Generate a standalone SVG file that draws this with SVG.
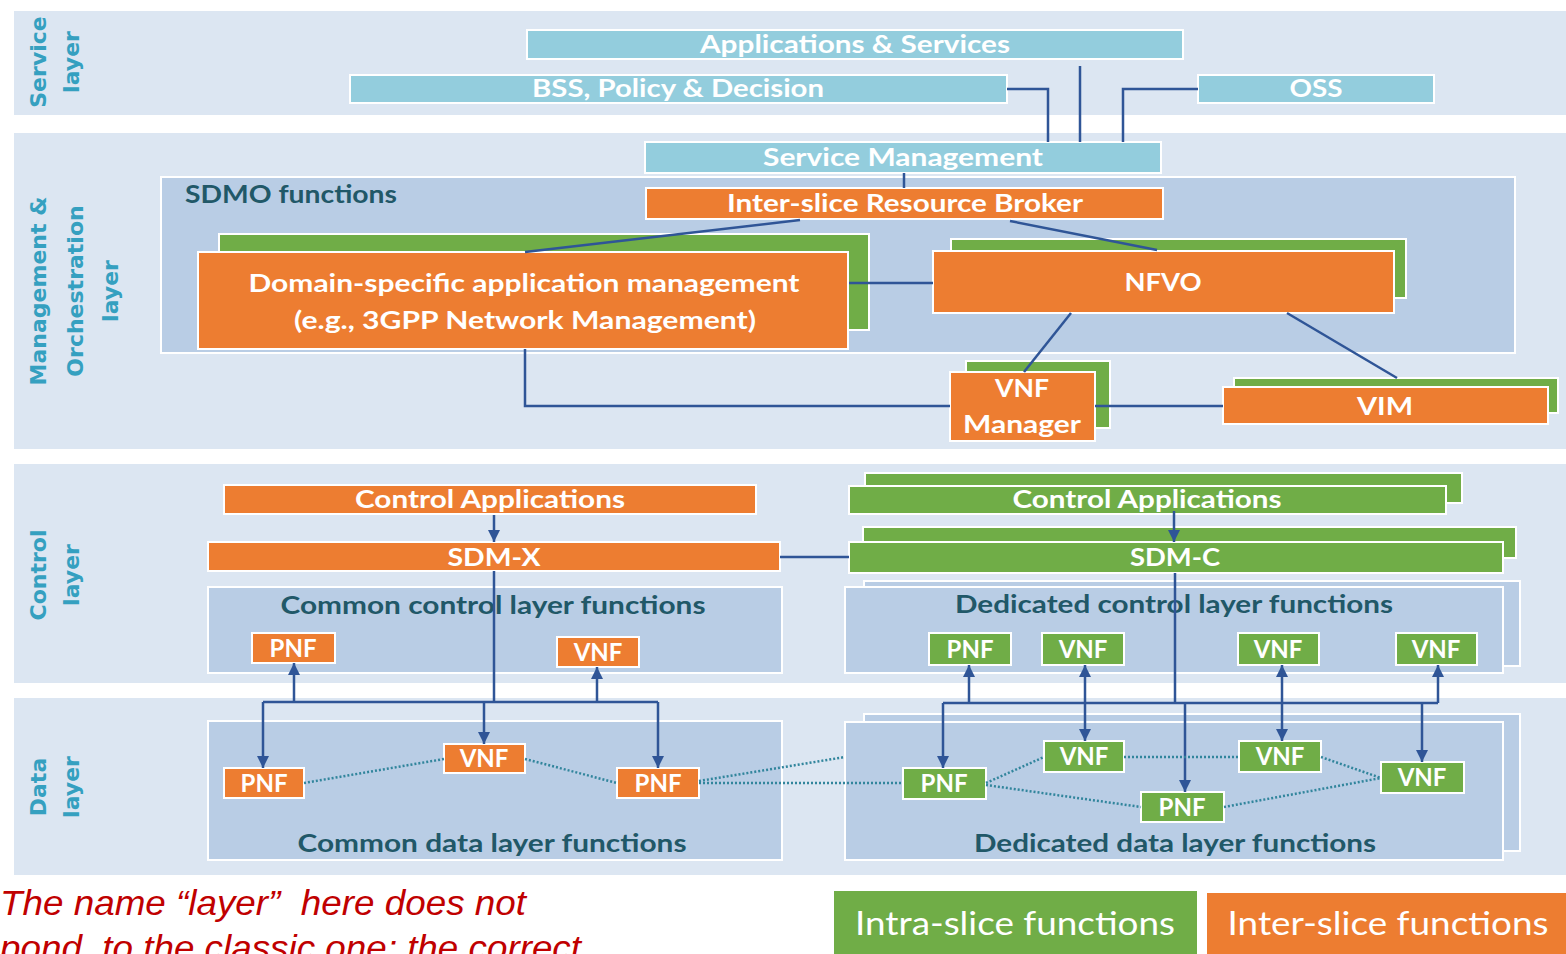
<svg xmlns="http://www.w3.org/2000/svg" width="1566" height="954" viewBox="0 0 1566 954">
<defs>
<style>
.band{fill:#dce6f2;stroke:#fff;stroke-width:2}
.lb{fill:#93cddd;stroke:#fff;stroke-width:2}
.or{fill:#ed7d31;stroke:#fff;stroke-width:2}
.gr{fill:#70ad47;stroke:#fff;stroke-width:2}
.pane{fill:#b9cde5;stroke:#fff;stroke-width:2}
.wt{font-family:Lato,"Open Sans","Liberation Sans",sans-serif;font-weight:700;font-size:25px;fill:#fff;text-anchor:middle}
.dt{font-family:Lato,"Open Sans","Liberation Sans",sans-serif;font-weight:700;font-size:25px;fill:#215868;text-anchor:middle}
.sm{font-size:24px}
.lg{font-family:Lato,"Open Sans","Liberation Sans",sans-serif;font-weight:400;font-size:32px;fill:#fff;text-anchor:middle}
.ll{font-family:"DejaVu Sans",Verdana,sans-serif;font-weight:700;font-size:22px;fill:#35a0c0;text-anchor:middle}
.ln{stroke:#2f5597;stroke-width:2.5;fill:none}
.dot{stroke:#31859c;stroke-width:2.5;stroke-dasharray:2 2;fill:none}
.note{font-family:"Liberation Sans",Arial,sans-serif;font-style:italic;font-size:35px;fill:#c00000}
</style>
<marker id="ah" viewBox="0 0 10 10" refX="10" refY="5" markerWidth="12" markerHeight="12" markerUnits="userSpaceOnUse" orient="auto-start-reverse">
<path d="M0,0 L10,5 L0,10 z" fill="#2f5597"/>
</marker>
</defs>
<rect width="1566" height="954" fill="#fff"/>

<g id="layers">
<rect class="band" x="13" y="10" width="1560" height="106"/>
<rect class="band" x="13" y="132" width="1560" height="318"/>
<rect class="band" x="13" y="463" width="1560" height="221"/>
<rect class="band" x="13" y="697" width="1560" height="179"/>
<text class="ll" transform="translate(46,62) rotate(-90)">Service</text>
<text class="ll" transform="translate(79,62) rotate(-90)">layer</text>
<text class="ll" transform="translate(46,291) rotate(-90)">Management &amp;</text>
<text class="ll" transform="translate(83,291) rotate(-90)">Orchestration</text>
<text class="ll" transform="translate(118,291) rotate(-90)">layer</text>
<text class="ll" transform="translate(46,575) rotate(-90)">Control</text>
<text class="ll" transform="translate(79,575) rotate(-90)">layer</text>
<text class="ll" transform="translate(46,787) rotate(-90)">Data</text>
<text class="ll" transform="translate(79,787) rotate(-90)">layer</text>
</g>

<g id="apps-services"><rect class="lb" x="527" y="30" width="656" height="29"/><text class="wt" x="855" y="53" textLength="310" lengthAdjust="spacingAndGlyphs">Applications &amp; Services</text></g>
<g id="bss"><rect class="lb" x="350" y="75" width="657" height="28"/><text class="wt" x="678" y="97" textLength="292" lengthAdjust="spacingAndGlyphs">BSS, Policy &amp; Decision</text></g>
<g id="oss"><rect class="lb" x="1198" y="75" width="236" height="28"/><text class="wt" x="1316" y="97" textLength="53" lengthAdjust="spacingAndGlyphs">OSS</text></g>

<g id="service-management"><rect class="lb" x="645" y="142" width="516" height="31"/><text class="wt" x="903" y="166" textLength="280" lengthAdjust="spacingAndGlyphs">Service Management</text></g>
<g id="sdmo"><rect class="pane" x="161" y="177" width="1354" height="176"/><text class="dt" x="185" y="203" text-anchor="start" style="text-anchor:start" textLength="212" lengthAdjust="spacingAndGlyphs">SDMO functions</text></g>
<g id="broker"><rect class="or" x="646" y="188" width="517" height="31"/><text class="wt" x="905" y="212" textLength="356" lengthAdjust="spacingAndGlyphs">Inter-slice Resource Broker</text></g>
<g id="domain-mgmt">
<rect class="gr" x="219" y="234" width="650" height="96"/>
<rect class="or" x="198" y="252" width="650" height="97"/>
<text class="wt" x="524" y="292" textLength="551" lengthAdjust="spacingAndGlyphs">Domain-specific application management</text>
<text class="wt" x="525" y="329" textLength="462" lengthAdjust="spacingAndGlyphs">(e.g., 3GPP Network Management)</text>
</g>
<g id="nfvo"><rect class="gr" x="951" y="239" width="455" height="59"/><rect class="or" x="933" y="251" width="461" height="62"/><text class="wt" x="1163" y="291" textLength="77" lengthAdjust="spacingAndGlyphs">NFVO</text></g>
<g id="vnf-manager"><rect class="gr" x="966" y="361" width="144" height="67"/><rect class="or" x="950" y="372" width="145" height="69"/><text class="wt" x="1022" y="397" textLength="54" lengthAdjust="spacingAndGlyphs">VNF</text><text class="wt" x="1022" y="433" textLength="118" lengthAdjust="spacingAndGlyphs">Manager</text></g>
<g id="vim"><rect class="gr" x="1234" y="378" width="324" height="35"/><rect class="or" x="1223" y="387" width="325" height="37"/><text class="wt" x="1385" y="415" textLength="56" lengthAdjust="spacingAndGlyphs">VIM</text></g>

<g id="control-apps-x"><rect class="or" x="224" y="485" width="532" height="29"/><text class="wt" x="490" y="508" textLength="270" lengthAdjust="spacingAndGlyphs">Control Applications</text></g>
<g id="sdm-x"><rect class="or" x="208" y="542" width="572" height="29"/><text class="wt" x="494" y="566" textLength="93" lengthAdjust="spacingAndGlyphs">SDM-X</text></g>
<g id="common-control"><rect class="pane" x="208" y="587" width="574" height="86"/><text class="dt" x="493" y="614" textLength="425" lengthAdjust="spacingAndGlyphs">Common control layer functions</text></g>
<g id="cc-pnf"><rect class="or" x="252" y="633" width="83" height="30"/><text class="wt sm" x="293" y="657">PNF</text></g>
<g id="cc-vnf"><rect class="or" x="557" y="637" width="82" height="30"/><text class="wt sm" x="598" y="661">VNF</text></g>

<g id="control-apps-c"><rect class="gr" x="865" y="473" width="597" height="30"/><rect class="gr" x="849" y="486" width="597" height="28"/><text class="wt" x="1147" y="508" textLength="269" lengthAdjust="spacingAndGlyphs">Control Applications</text></g>
<g id="sdm-c"><rect class="gr" x="863" y="527" width="653" height="31"/><rect class="gr" x="849" y="542" width="654" height="31"/><text class="wt" x="1175" y="566" textLength="90" lengthAdjust="spacingAndGlyphs">SDM-C</text></g>
<g id="dedicated-control"><rect class="pane" x="864" y="581" width="656" height="85"/><rect class="pane" x="845" y="587" width="658" height="86"/><text class="dt" x="1174" y="613" textLength="438" lengthAdjust="spacingAndGlyphs">Dedicated control layer functions</text></g>
<g id="dc-pnf"><rect class="gr" x="929" y="633" width="82" height="32"/><text class="wt sm" x="970" y="658">PNF</text></g>
<g id="dc-vnf1"><rect class="gr" x="1042" y="633" width="82" height="32"/><text class="wt sm" x="1083" y="658">VNF</text></g>
<g id="dc-vnf2"><rect class="gr" x="1238" y="633" width="81" height="32"/><text class="wt sm" x="1278" y="658">VNF</text></g>
<g id="dc-vnf3"><rect class="gr" x="1396" y="633" width="81" height="32"/><text class="wt sm" x="1436" y="658">VNF</text></g>

<g id="common-data"><rect class="pane" x="208" y="721" width="574" height="139"/><text class="dt" x="492" y="852" textLength="389" lengthAdjust="spacingAndGlyphs">Common data layer functions</text></g>
<g id="cd-pnf1"><rect class="or" x="224" y="768" width="80" height="30"/><text class="wt sm" x="264" y="792">PNF</text></g>
<g id="cd-vnf"><rect class="or" x="444" y="744" width="81" height="29"/><text class="wt sm" x="484" y="767">VNF</text></g>
<g id="cd-pnf2"><rect class="or" x="617" y="768" width="82" height="30"/><text class="wt sm" x="658" y="792">PNF</text></g>

<g id="dedicated-data"><rect class="pane" x="864" y="714" width="656" height="137"/><rect class="pane" x="845" y="722" width="658" height="138"/><text class="dt" x="1175" y="852" textLength="402" lengthAdjust="spacingAndGlyphs">Dedicated data layer functions</text></g>
<g id="dd-pnf1"><rect class="gr" x="903" y="768" width="83" height="31"/><text class="wt sm" x="944" y="792">PNF</text></g>
<g id="dd-vnf1"><rect class="gr" x="1044" y="741" width="80" height="31"/><text class="wt sm" x="1084" y="765">VNF</text></g>
<g id="dd-vnf2"><rect class="gr" x="1239" y="741" width="82" height="31"/><text class="wt sm" x="1280" y="765">VNF</text></g>
<g id="dd-vnf3"><rect class="gr" x="1381" y="762" width="83" height="31"/><text class="wt sm" x="1422" y="786">VNF</text></g>
<g id="dd-pnf2"><rect class="gr" x="1141" y="792" width="83" height="30"/><text class="wt sm" x="1182" y="816">PNF</text></g>

<g id="connectors">
<path class="ln" d="M1007,89 H1048 V142"/>
<path class="ln" d="M1080,66 V142"/>
<path class="ln" d="M1198,89 H1123 V142"/>
<path class="ln" d="M904,173 V188"/>
<path class="ln" d="M800,220 L525,252"/>
<path class="ln" d="M1010,221 L1157,250"/>
<path class="ln" d="M849,283 H933"/>
<path class="ln" d="M1071,313 L1024,372"/>
<path class="ln" d="M1287,313 L1397,378"/>
<path class="ln" d="M525,349 V406 H950"/>
<path class="ln" d="M1095,406 H1223"/>

<path class="ln" d="M494,515 V542" marker-end="url(#ah)"/>
<path class="ln" d="M494,571 V702"/>
<path class="ln" d="M263,702 H658"/>
<path class="ln" d="M294,702 V663" marker-end="url(#ah)"/>
<path class="ln" d="M597,702 V667" marker-end="url(#ah)"/>
<path class="ln" d="M263,702 V768" marker-end="url(#ah)"/>
<path class="ln" d="M484,702 V744" marker-end="url(#ah)"/>
<path class="ln" d="M658,702 V768" marker-end="url(#ah)"/>

<path class="ln" d="M1174,511 V542" marker-end="url(#ah)"/>
<path class="ln" d="M780,557 H849"/>
<path class="ln" d="M1175,573 V703"/>
<path class="ln" d="M943,703 H1438"/>
<path class="ln" d="M969,703 V665" marker-end="url(#ah)"/>
<path class="ln" d="M1438,703 V665" marker-end="url(#ah)"/>
<path class="ln" d="M1085,665 V741" marker-start="url(#ah)" marker-end="url(#ah)"/>
<path class="ln" d="M1282,665 V741" marker-start="url(#ah)" marker-end="url(#ah)"/>
<path class="ln" d="M943,703 V768" marker-end="url(#ah)"/>
<path class="ln" d="M1185,703 V792" marker-end="url(#ah)"/>
<path class="ln" d="M1422,703 V762" marker-end="url(#ah)"/>

<path class="dot" d="M304,783 L444,759"/>
<path class="dot" d="M525,759 L617,783"/>
<path class="dot" d="M699,783 H903"/>
<path class="dot" d="M699,781 L845,757"/>
<path class="dot" d="M986,783 L1044,757"/>
<path class="dot" d="M986,785 L1141,807"/>
<path class="dot" d="M1124,757 H1239"/>
<path class="dot" d="M1321,757 L1381,778"/>
<path class="dot" d="M1224,807 L1381,778"/>
</g>

<g id="legend">
<rect fill="#70ad47" x="834" y="891" width="363" height="70"/>
<text class="lg" x="1015" y="935" textLength="320" lengthAdjust="spacingAndGlyphs">Intra-slice functions</text>
<rect fill="#ed7d31" x="1207" y="893" width="365" height="70"/>
<text class="lg" x="1388" y="935" textLength="321" lengthAdjust="spacingAndGlyphs">Inter-slice functions</text>
</g>

<g id="note">
<text class="note" x="0" y="915" xml:space="preserve" textLength="526" lengthAdjust="spacingAndGlyphs">The name “layer”  here does not</text>
<text class="note" x="0" y="960" xml:space="preserve" textLength="581" lengthAdjust="spacingAndGlyphs">pond  to the classic one; the correct</text>
</g>
</svg>
